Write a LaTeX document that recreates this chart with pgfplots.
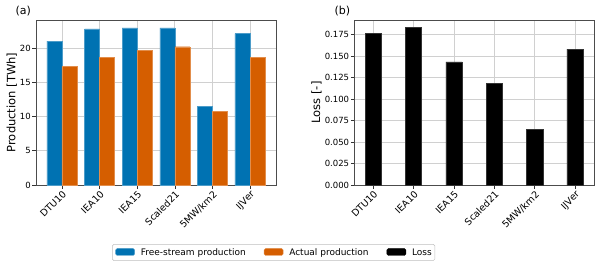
\documentclass[border=0pt]{standalone}
\usepackage{pgfplots}
\pgfplotsset{compat=1.18}
\usepackage{fontspec}
\setmainfont{DejaVu Sans}
\definecolor{cblue}{HTML}{0072B2}
\definecolor{corange}{HTML}{D55E00}
\definecolor{gridgray}{HTML}{D0D0D0}
\pgfplotsset{
  common/.style={
    scale only axis,
    anchor=south west,
    height=165pt,
    ymin=0,
    xtick={0,1,2,3,4,5},
    xticklabels={DTU10,IEA10,IEA15,Scaled21,5MW/km2,IJVer},
    xtick pos=bottom, ytick pos=left,
    xticklabel style={rotate=45, anchor=north east, inner sep=1pt, font=\fontsize{9.5}{11}\selectfont},
    yticklabel style={font=\fontsize{8.5}{10}\selectfont, inner sep=1.5pt},
    /pgf/number format/assume math mode=true,
    tick align=outside,
    major tick length=3.5pt,
    tick style={black!80, line width=0.6pt},
    axis line style={black!70, line width=0.7pt},
    grid=major,
    major grid style={gridgray, line width=0.7pt},
    ylabel style={font=\fontsize{11.5}{13}\selectfont},
  }
}
\begin{document}
\begin{tikzpicture}
\path[use as bounding box] (0,0) rectangle (600pt,268pt);
\begin{axis}[common,
  at={(36pt,83pt)}, width=240pt,
  xmin=-0.69, xmax=5.69, ymax=24.1,
  ytick={0,5,10,15,20},
  ylabel={Production [TWh]},
  ylabel shift=-2pt,
  legend style={at={(axis description cs:0.99,-0.409)}, anchor=center, legend columns=3,
    font=\fontsize{9}{11}\selectfont, draw=black!25, rounded corners=1.5pt,
    cells={anchor=west},
    nodes={inner xsep=0pt, inner ysep=1pt},
    /tikz/every odd column/.append style={column sep=6pt},
    /tikz/every even column/.append style={column sep=18pt},
    inner xsep=3pt, inner ysep=3pt},
  legend image code/.code={\fill[#1] (0pt,-3pt) rectangle (19pt,4pt);},
]
\addplot[ybar, bar width=0.4, bar shift=-0.2, fill=cblue, draw=cblue!70!white, line width=0.4pt]
  coordinates {(0,21.0) (1,22.8) (2,22.96) (3,22.96) (4,11.5) (5,22.1)};
\addlegendentry{Free-stream production}
\addplot[ybar, bar width=0.4, bar shift=0.2, fill=corange, draw=corange!70!white, line width=0.4pt]
  coordinates {(0,17.3) (1,18.6) (2,19.66) (3,20.2) (4,10.8) (5,18.6)};
\addlegendentry{Actual production}
\addlegendimage{fill=black}
\addlegendentry{Loss}
\end{axis}
\begin{axis}[common,
  at={(354.3pt,83pt)}, width=239.7pt,
  xmin=-0.47, xmax=5.47, ymax=0.192,
  ytick={0,0.025,0.05,0.075,0.1,0.125,0.15,0.175},
  yticklabels={0.000,0.025,0.050,0.075,0.100,0.125,0.150,0.175},
  ylabel={Loss [-]},
  ylabel shift=-2pt,
]
\addplot[ybar, bar width=0.4, bar shift=0, fill=black, draw=black!80!white, line width=0.4pt]
  coordinates {(0,0.1766) (1,0.1836) (2,0.1433) (3,0.1185) (4,0.0651) (5,0.158)};
\end{axis}
\node[anchor=west, font=\fontsize{11}{13}\selectfont] at (12pt,257pt) {(a)};
\node[anchor=west, font=\fontsize{11}{13}\selectfont] at (331pt,257pt) {(b)};
\end{tikzpicture}
\end{document}
